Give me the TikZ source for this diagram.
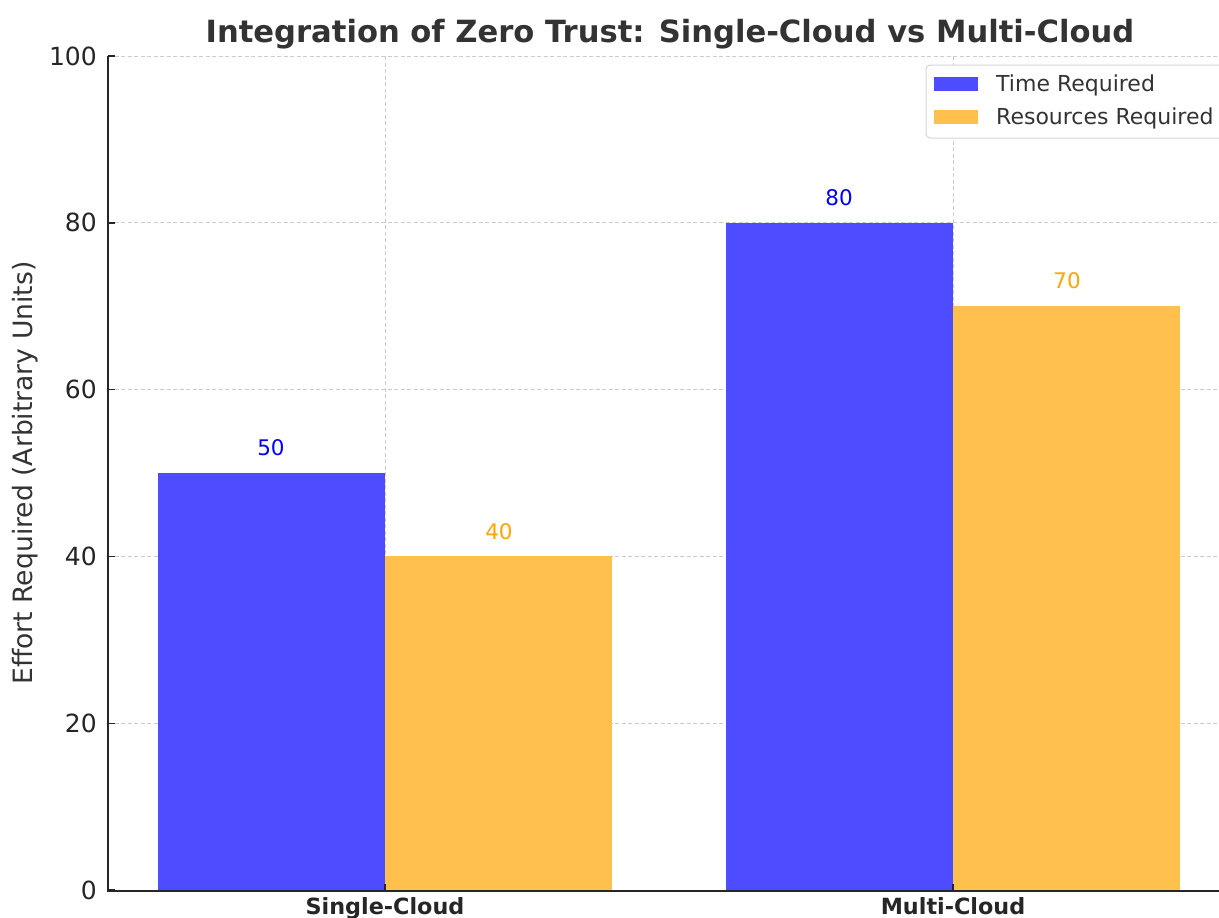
\documentclass[tikz,border=0pt]{standalone}
\usepackage{fontspec}
\setmainfont{DejaVu Sans}
\definecolor{barblue}{HTML}{4D4DFF}
\definecolor{barorange}{HTML}{FFC04D}
\definecolor{txtblue}{HTML}{0000FF}
\definecolor{txtorange}{HTML}{FFA500}
\definecolor{gridgray}{HTML}{CCCCCC}
\definecolor{axisdark}{HTML}{262626}
\definecolor{titledark}{HTML}{333333}
\begin{document}
\begin{tikzpicture}[x=1pt,y=-1pt,
  grid/.style={gridgray,line width=0.8pt,dash pattern=on 4pt off 2.5pt},
  spine/.style={axisdark,line width=1.6pt},
  tick/.style={axisdark,line width=1.4pt},
  ticklab/.style={anchor=east,text=axisdark,font=\fontsize{25}{28}\selectfont,inner sep=0pt},
  barT/.style={fill=barblue,draw=none},
  barR/.style={fill=barorange,draw=none},
  vallab/.style={font=\fontsize{21.5}{24}\selectfont,inner sep=0pt},
  catlab/.style={anchor=base,text=axisdark,font=\fontsize{22.3}{24}\selectfont\bfseries,inner sep=0pt},
  legtext/.style={anchor=base west,text=titledark,font=\fontsize{22}{24}\selectfont,inner sep=0pt}]
\useasboundingbox[fill=white] (0,0) rectangle (1219,918);
% grid
\foreach \v in {20,40,60,80,100} {
  \draw[grid] (108,{890-8.34*\v}) -- (1219,{890-8.34*\v});
}
\draw[grid] (385,56) -- (385,890);
\draw[grid] (953,56) -- (953,890);
% bars
\fill[barT] (158,473) rectangle (385,890);
\fill[barR] (385,556) rectangle (612,890);
\fill[barT] (726,222.8) rectangle (953,890);
\fill[barR] (953,306.2) rectangle (1180,890);
% spines
\draw[spine] (108,56) -- (108,890.8) -- (1219,890.8);
% ticks
\foreach \v in {0,20,40,60,80,100} {
  \draw[tick] (108,{890-8.34*\v}) -- (115,{890-8.34*\v});
  \node[ticklab] (yt\v) at (97,{890-8.34*\v}) {\v};
}
\draw[tick] (385,890) -- (385,884);
\draw[tick] (953,890) -- (953,884);
% value labels
\node[vallab,text=txtblue] (v1) at (271,448) {50};
\node[vallab,text=txtorange] (v2) at (499,532) {40};
\node[vallab,text=txtblue] (v3) at (839,198) {80};
\node[vallab,text=txtorange] (v4) at (1067,281) {70};
% category labels
\node[catlab] (c1) at (385,914.5) {Single-Cloud};
\node[catlab] (c2) at (953,914.5) {Multi-Cloud};
% axis label
\node[rotate=90,text=titledark,font=\fontsize{26.6}{30}\selectfont,inner sep=0pt] (ylab) at (25,473) {Effort Required (Arbitrary Units)};
% title
\node[anchor=base,text=titledark,font=\fontsize{30.6}{34}\selectfont\bfseries,inner sep=0pt] (title) at (670,42) {Integration of Zero Trust: Single-Cloud vs Multi-Cloud};
% legend
\draw[gridgray!80,line width=1pt,fill=white,rounded corners=4pt] (926,65) rectangle (1232,138);
\fill[barblue] (934,77) rectangle (978,91);
\fill[barorange] (934,110) rectangle (978,124);
\node[legtext] (l1) at (996,91.5) {Time Required};
\node[legtext] (l2) at (996,124.5) {Resources Required};
\end{tikzpicture}
\end{document}
